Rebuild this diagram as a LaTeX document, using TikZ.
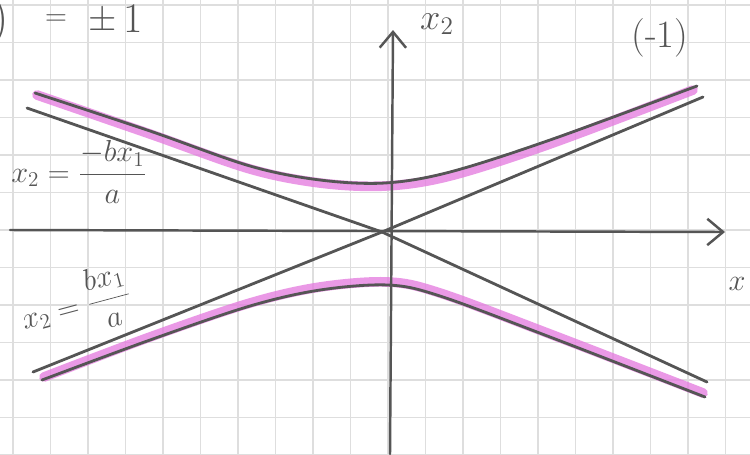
\documentclass[tikz,border=0pt]{standalone}
\usepackage{tikz}
\usetikzlibrary{arrows.meta}

\definecolor{pencil}{RGB}{85,85,85}
\definecolor{hilite}{RGB}{228,120,222}
\definecolor{gridline}{RGB}{222,222,222}

\begin{document}
\begin{tikzpicture}[x=0.02cm, y=-0.02cm,
    pen/.style={pencil, line width=1.6pt, line cap=round, line join=round},
    marker/.style={hilite, line width=5.5pt, opacity=0.75, line cap=round},
    axis/.style={pen, line width=1.4pt, -{Straight Barb[length=9pt, width=15pt, line width=1.4pt]}},
    hand/.style={pencil, inner sep=0pt}]
  \useasboundingbox (0,0) rectangle (750,454);
  \fill[white] (0,0) rectangle (750,454);
  % draw grid paper lines
  \foreach \gx in {0,...,19} {
    \draw[gridline, line width=0.7pt] (13+37.5*\gx,0) -- (13+37.5*\gx,454);
  }
  \foreach \gy in {0,...,12} {
    \draw[gridline, line width=0.7pt] (0,5+37.5*\gy) -- (750,5+37.5*\gy);
  }
  % axis end points and origin
  \coordinate (origin) at (382,232);
  \coordinate (x1left) at (10,230);
  \coordinate (x1right) at (725,232);
  \coordinate (x2bottom) at (390,454);
  \coordinate (x2top) at (393,30);
  % asymptote end points
  \coordinate (asyNW) at (27,108);
  \coordinate (asySE) at (707,382);
  \coordinate (asySW) at (33,372);
  \coordinate (asyNE) at (703,97);
  % highlight the two branches
  \draw[marker] plot[smooth, tension=0.55] coordinates {(37,95) (150,134) (250,169) (320,183) (385,186) (450,176) (550,144) (693,90)};
  \draw[marker] plot[smooth, tension=0.55] coordinates {(44,377) (150,337) (250,303) (320,287) (388,282) (440,293) (550,334) (703,393)};
  % draw axes
  \draw[axis] (x1left) -- (x1right);
  \draw[axis] (x2bottom) -- (x2top);
  % draw asymptotes
  \draw[pen] (asyNW) -- (origin) -- (asySE);
  \draw[pen] (asySW) -- (origin) -- (asyNE);
  % draw hyperbola branches
  \draw[pen] plot[smooth, tension=0.55] coordinates {(35,93) (150,131) (250,166) (320,180) (385,183) (450,172) (550,140) (697,86)};
  \draw[pen] plot[smooth, tension=0.55] coordinates {(42,380) (150,340) (250,306) (320,290) (388,285) (440,296) (550,337) (705,397)};
  % labels
  \node[hand, font=\fontsize{28}{28}\selectfont] (paren) at (0,21) {)};
  \node[hand, font=\fontsize{16}{16}\selectfont] (eqsign) at (56,20) {$=$};
  \node[hand, font=\fontsize{20}{20}\selectfont] (pmsign) at (103,21) {$\pm$};
  \node[hand, font=\fontsize{24}{24}\selectfont] (one) at (133,19) {1};
  \node[hand, font=\fontsize{22}{22}\selectfont] (minusone) at (660,38) {(-1)};
  \node[hand, font=\fontsize{22}{22}\selectfont] (x2label) at (437,24) {$x_2$};
  \node[hand, font=\fontsize{18}{18}\selectfont] (x1label) at (737,284) {$x$};
  \node[hand, font=\fontsize{18}{18}\selectfont] (asyNWlabel) at (79,172) {$\displaystyle x_2=\frac{-bx_1}{a}$};
  \node[hand, font=\fontsize{18}{18}\selectfont, rotate=15] (asySWlabel) at (76,305) {$\displaystyle x_2=\frac{bx_1}{a}$};
\end{tikzpicture}
\end{document}
